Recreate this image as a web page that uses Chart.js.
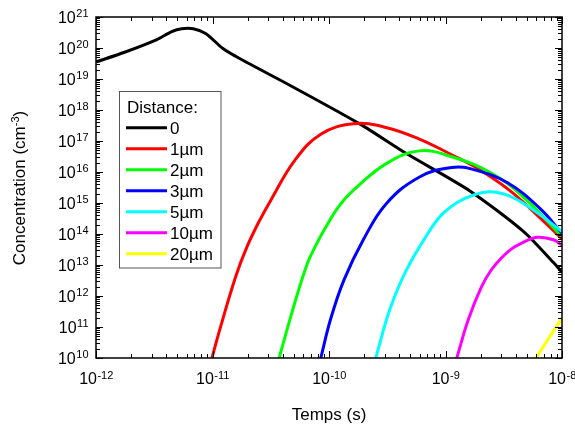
<!DOCTYPE html>
<html>
<head>
<meta charset="utf-8">
<script src="https://cdn.jsdelivr.net/npm/chart.js@4.4.0/dist/chart.umd.min.js"></script>
<style>
html, body { margin: 0; padding: 0; background: #fff; }
canvas { display: block; }
</style>
</head>
<body>
<canvas id="graf" width="575" height="428" style="width:575px;height:428px"></canvas>
<script>
// eixos (expoentes das décadas)
const xExps = [-12, -11, -10, -9, -8]
const yExps = [10, 11, 12, 13, 14, 15, 16, 17, 18, 19, 20, 21]

// séries: tempo (s) e concentração (cm^-3)
const nomes = ['0', '1µm', '2µm', '3µm', '5µm', '10µm', '20µm']
const cores = ['#000000', '#ff0000', '#00ff00', '#0000ff', '#00ffff', '#ff00ff', '#ffff00']

const t0 = [1e-12, 1.76e-12, 3.33e-12, 4.47e-12, 5.42e-12, 6.84e-12, 8.8e-12, 1.22e-11, 1.74e-11, 4.6e-11, 1.85e-10, 4.58e-10, 1.62e-9, 4.71e-9, 8.45e-9, 1e-8]
const c0 = [3.55e19, 7.3e19, 1.87e20, 3.4e20, 4.2e20, 4.2e20, 2.9e20, 9.8e19, 4.4e19, 6.3e18, 3.5e17, 4e16, 2.45e15, 1.18e14, 1.2e13, 5.9e12]

const t1 = [9.9e-12, 1.135e-11, 1.58e-11, 1.98e-11, 2.52e-11, 3.22e-11, 5.07e-11, 8.5e-11, 1.63e-10, 3.08e-10, 5.97e-10, 1.13e-9, 1.77e-9, 3.44e-9, 6.15e-9, 1e-8]
const c1 = [1e10, 6.6e10, 4.2e12, 3.9e13, 2.6e14, 1.38e15, 2.34e16, 1.66e17, 3.6e17, 2.74e17, 1.15e17, 3.6e16, 1.5e16, 2.8e15, 4e14, 6.9e13]

const t2 = [3.73e-11, 5.07e-11, 6.56e-11, 7.93e-11, 9.08e-11, 1.21e-10, 1.63e-10, 3.1e-10, 5.94e-10, 1.13e-9, 2.47e-9, 4.71e-9, 1e-8]
const c2 = [1e10, 5.8e11, 1.18e13, 5.25e13, 1.35e14, 7.7e14, 2.63e15, 1.86e16, 4.8e16, 3.1e16, 9.3e15, 1.5e15, 8.3e13]

const t3 = [8.5e-11, 1.03e-10, 1.34e-10, 1.97e-10, 3.1e-10, 5.94e-10, 1.13e-9, 1.78e-9, 3.41e-9, 6.52e-9, 1e-8]
const c3 = [1e10, 1.74e11, 3.2e12, 6.5e13, 9.5e14, 6.8e15, 1.4e16, 1.17e16, 4.5e15, 6.5e14, 1.05e14]

const t5 = [2.52e-10, 3.32e-10, 4.58e-10, 7.21e-10, 9.33e-10, 1.25e-9, 1.77e-9, 2.47e-9, 3.64e-9, 5.73e-9, 1e-8]
const c5 = [1e10, 3.6e11, 6.5e12, 1.18e14, 4.3e14, 1.02e15, 1.85e15, 2.3e15, 1.6e15, 5.8e14, 1.2e14]

const t10 = [1.25e-9, 1.57e-9, 2.03e-9, 2.47e-9, 3e-9, 3.64e-9, 4.42e-9, 6.1e-9, 8.45e-9, 1e-8]
const c10 = [1e10, 1.74e11, 1.95e12, 6.9e12, 1.64e13, 3.2e13, 4.9e13, 7.8e13, 6.5e13, 4.3e13]

const t20 = [6e-9, 7.9e-9, 1e-8]
const c20 = [1e10, 5.1e10, 1.95e11]

const tempos = [t0, t1, t2, t3, t5, t10, t20]
const concs = [c0, c1, c2, c3, c5, c10, c20]

const fonte = 'Arial, "Liberation Sans", Helvetica, sans-serif'

function textoSup(ctx, base, sup, x, y, tam, tamSup, alinh) {
  ctx.font = tam + 'px ' + fonte
  const w1 = ctx.measureText(base).width
  ctx.font = tamSup + 'px ' + fonte
  const w2 = ctx.measureText(sup).width
  let x0 = x
  if (alinh === 'center') x0 = x - (w1 + w2) / 2
  if (alinh === 'right') x0 = x - (w1 + w2)
  ctx.textAlign = 'left'
  ctx.textBaseline = 'alphabetic'
  ctx.font = tam + 'px ' + fonte
  ctx.fillText(base, x0, y)
  ctx.font = tamSup + 'px ' + fonte
  ctx.fillText(sup, x0 + w1 + 0.5, y - tam * 0.34)
}

const eixos = {
  id: 'eixos',
  afterDatasetsDraw(chart) {
    const {ctx, chartArea: a, scales: {x, y}} = chart
    ctx.save()
    ctx.strokeStyle = '#000'
    ctx.fillStyle = '#000'
    ctx.lineWidth = 1
    const traco = (x1, y1, x2, y2) => {
      ctx.beginPath(); ctx.moveTo(x1, y1); ctx.lineTo(x2, y2); ctx.stroke()
    }
    // marcas do eixo x (em baixo e em cima, para dentro)
    for (let i = 0; i < xExps.length; i++) {
      for (let m = 1; m < 10; m++) {
        if (i === xExps.length - 1 && m > 1) break
        const px = Math.round(x.getPixelForValue(m * Math.pow(10, xExps[i]))) + 0.5
        const len = m === 1 ? 7 : 4
        traco(px, a.bottom, px, a.bottom - len)
        traco(px, a.top, px, a.top + len)
      }
    }
    // marcas do eixo y (esquerda e direita)
    for (let i = 0; i < yExps.length; i++) {
      for (let m = 1; m < 10; m++) {
        if (i === yExps.length - 1 && m > 1) break
        const py = Math.round(y.getPixelForValue(m * Math.pow(10, yExps[i]))) + 0.5
        const len = m === 1 ? 7 : 4
        traco(a.left, py, a.left + len, py)
        traco(a.right, py, a.right - len, py)
      }
    }
    ctx.lineWidth = 1.5
    ctx.strokeRect(a.left, a.top, a.right - a.left, a.bottom - a.top)

    // rótulos
    xExps.forEach(e => {
      textoSup(ctx, '10', String(e), x.getPixelForValue(Math.pow(10, e)), a.bottom + 26, 16, 11, 'center')
    })
    yExps.forEach(e => {
      textoSup(ctx, '10', String(e), a.left - 8, y.getPixelForValue(Math.pow(10, e)) + 5.8, 16, 11, 'right')
    })

    // títulos
    ctx.font = '17px ' + fonte
    ctx.textAlign = 'center'
    ctx.fillText('Temps (s)', (a.left + a.right) / 2, 420)
    ctx.save()
    ctx.translate(25, 188)
    ctx.rotate(-Math.PI / 2)
    ctx.font = '17px ' + fonte
    const wt = ctx.measureText('Concentration (cm').width
    ctx.font = '11px ' + fonte
    const ws = ctx.measureText('-3').width
    ctx.font = '17px ' + fonte
    const wp = ctx.measureText(')').width
    let x0 = -(wt + ws + wp) / 2
    ctx.textAlign = 'left'
    ctx.fillText('Concentration (cm', x0, 0)
    ctx.font = '11px ' + fonte
    ctx.fillText('-3', x0 + wt, -6)
    ctx.font = '17px ' + fonte
    ctx.fillText(')', x0 + wt + ws, 0)
    ctx.restore()

    // legenda
    ctx.fillStyle = '#fff'
    ctx.fillRect(119.5, 91.5, 101.5, 176.5)
    ctx.strokeStyle = '#555'
    ctx.lineWidth = 1
    ctx.strokeRect(119.5, 91.5, 101.5, 176.5)
    ctx.fillStyle = '#000'
    ctx.font = '17px ' + fonte
    ctx.textAlign = 'left'
    ctx.fillText('Distance:', 127, 112.5)
    nomes.forEach((n, i) => {
      const ly = 127.7 + i * 21
      ctx.strokeStyle = cores[i]
      ctx.lineWidth = 3
      traco(126, ly, 167, ly)
      ctx.fillStyle = '#000'
      ctx.fillText(n, 170, ly + 6)
    })
    ctx.restore()
  }
}

const graf = document.getElementById('graf')
const myChart = new Chart(graf, {
  type: 'line',
  data: {
    datasets: nomes.map((n, i) => ({
      label: n,
      data: tempos[i].map((t, j) => ({x: t, y: concs[i][j]})),
      borderColor: cores[i],
      borderWidth: 3,
      pointRadius: 0,
      fill: false,
      tension: i === 0 ? 0.25 : 0.4,
      order: nomes.length - i
    }))
  },
  options: {
    responsive: false,
    animation: false,
    layout: { padding: { left: 88, right: 13, top: 17, bottom: 62 } },
    plugins: { legend: { display: false }, tooltip: { enabled: false } },
    scales: {
      x: {
        type: 'logarithmic', min: 1e-12, max: 1e-8,
        grid: { display: false }, ticks: { display: false },
        border: { display: false }
      },
      y: {
        type: 'logarithmic', min: 1e10, max: 1e21,
        grid: { display: false }, ticks: { display: false },
        border: { display: false }
      }
    }
  },
  plugins: [eixos]
})
</script>
</body>
</html>
